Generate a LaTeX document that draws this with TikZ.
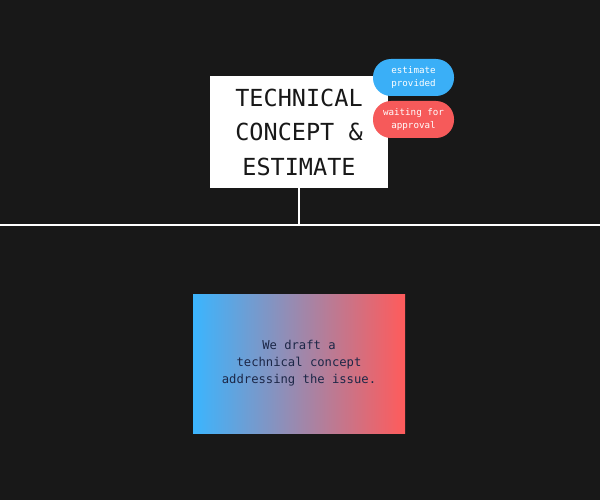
\documentclass[tikz,border=0pt]{standalone}
\usepackage{fontspec}
\setmonofont{DejaVu Sans Mono}
\definecolor{bg}{HTML}{181818}
\definecolor{pillblue}{HTML}{3AAFF7}
\definecolor{pillred}{HTML}{F65A5A}
\definecolor{gradblue}{HTML}{3BB5FE}
\definecolor{gradred}{HTML}{FF5B5B}
\definecolor{navy}{HTML}{1C2747}
\begin{document}
\begin{tikzpicture}[x=1pt,y=-1pt,
  titlebox/.style={fill=white,inner sep=0pt,minimum width=178pt,minimum height=112pt,
    align=center,font=\ttfamily\fontsize{23.5}{34.5}\selectfont,text=bg},
  pill/.style={rounded corners=18pt,inner sep=0pt,minimum width=81pt,minimum height=37pt,
    align=center,font=\ttfamily\fontsize{9.2}{13}\selectfont,text=white},
  gradbox/.style={inner sep=0pt,minimum width=212pt,minimum height=139pt,
    shading=axis,left color=gradblue,right color=gradred,shading angle=90,
    align=center,font=\ttfamily\fontsize{12.2}{17}\selectfont,text=navy},
  wline/.style={draw=white,line width=2pt}]
\fill[bg] (0,0) rectangle (600,500);
\useasboundingbox (0,0) rectangle (600,500);
\coordinate (lineL) at (0,225);
\coordinate (lineR) at (600,225);
\node[titlebox] (title) at (299,132) {TECHNICAL\\CONCEPT \&\\ESTIMATE};
\coordinate (join) at (299,225);
\draw[wline] (lineL) -- (lineR);
\draw[wline] (title.south) -- (join);
\node[pill,fill=pillblue] (est) at (413.5,77.5) {estimate\\provided};
\node[pill,fill=pillred] (wait) at (413.5,119.5) {waiting for\\approval};
\node[gradbox] (desc) at (299,363.5) {We draft a\\technical concept\\addressing the issue.};
\end{tikzpicture}
\end{document}
